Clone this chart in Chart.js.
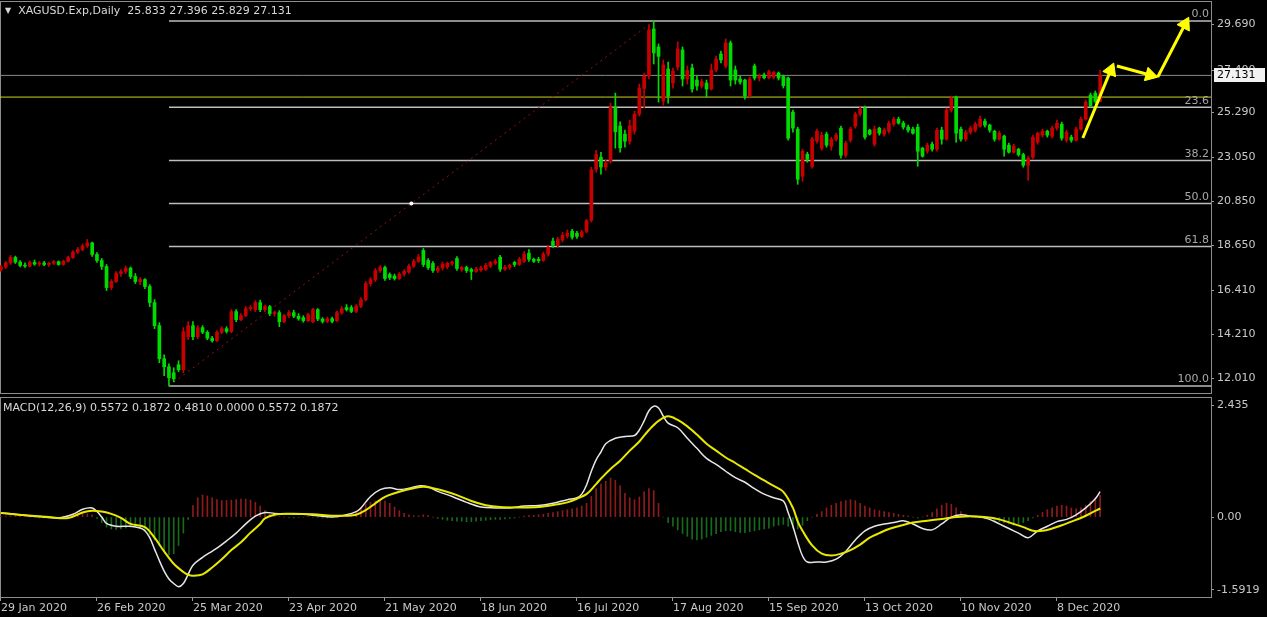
<!DOCTYPE html>
<html>
<head>
<meta charset="utf-8">
<script src="https://cdn.jsdelivr.net/npm/chart.js@4.4.1/dist/chart.umd.min.js"></script>
<style>
html, body { margin: 0; padding: 0; background: #000; overflow: hidden; }
#wrap { position: relative; width: 1267px; height: 617px; background: #000; }
canvas { position: absolute; left: 0; }
#priceCanvas { top: 0; }
#macdCanvas { top: 395px; }
.legend { position: absolute; font: 11px "DejaVu Sans", sans-serif; color: #d8d8d8; white-space: pre; }
.legend .tri { font-size: 8px; vertical-align: 1px; }
</style>
</head>
<body>
<div id="wrap">
  <canvas id="priceCanvas" width="1267" height="395"></canvas>
  <canvas id="macdCanvas" width="1267" height="222"></canvas>
  <div class="legend" style="left:5px;top:4px"><span class="tri">▼</span>  XAGUSD.Exp,Daily  25.833 27.396 25.829 27.131</div>
  <div class="legend" style="left:3px;top:401px">MACD(12,26,9) 0.5572 0.1872 0.4810 0.0000 0.5572 0.1872</div>
</div>
<script>
// time axis labels, one every 20 daily bars
const dateLabels = ["29 Jan 2020", "26 Feb 2020", "25 Mar 2020", "23 Apr 2020", "21 May 2020", "18 Jun 2020",
  "16 Jul 2020", "17 Aug 2020", "15 Sep 2020", "13 Oct 2020", "10 Nov 2020", "8 Dec 2020"];

// daily candles (bar index 0 = 29 Jan 2020)
const opens = [
  17.45,17.58,17.78,18.05,17.82,17.65,17.62,17.80,17.72,17.78,
  17.70,17.76,17.84,17.70,17.86,18.05,18.32,18.45,18.62,18.78,
  18.20,17.90,17.60,16.55,16.85,17.25,17.35,17.52,17.10,16.85,
  16.95,16.60,15.80,14.65,13.00,12.60,12.30,12.70,12.45,14.10,
  14.65,14.10,14.55,14.32,14.02,13.90,14.32,14.50,14.36,15.35,
  14.95,15.15,15.50,15.45,15.80,15.45,15.60,15.25,15.30,14.85,
  15.15,15.30,15.12,15.05,14.90,14.85,15.45,14.98,14.86,15.00,
  14.90,15.30,15.55,15.55,15.36,15.62,15.95,16.75,16.95,17.40,
  17.55,17.20,17.12,17.00,17.22,17.32,17.62,17.86,18.40,17.90,
  17.75,17.40,17.52,17.58,17.76,18.00,17.45,17.56,17.45,17.35,
  17.42,17.46,17.62,17.76,18.06,17.46,17.56,17.80,17.70,17.86,
  18.26,17.96,17.96,17.90,18.22,18.86,18.66,18.92,19.12,19.36,
  19.26,19.10,19.35,19.90,22.45,23.05,22.56,22.85,25.55,24.60,
  24.20,23.85,24.35,25.20,26.48,27.10,29.45,28.55,25.85,27.45,
  26.75,27.55,28.40,26.95,27.50,26.90,26.60,26.75,26.45,27.40,
  28.20,27.60,28.75,27.40,26.95,26.90,26.10,27.60,27.00,27.15,
  27.02,27.05,27.25,27.08,27.00,25.30,24.45,22.10,23.20,22.60,
  23.85,23.50,24.20,23.60,23.95,24.50,23.15,23.90,24.60,25.20,
  25.50,24.40,23.70,24.50,24.20,24.35,24.70,24.95,24.75,24.55,
  24.45,24.55,23.50,23.35,23.70,23.45,24.40,23.95,25.40,26.05,
  24.45,23.95,24.30,24.40,24.60,24.85,24.65,24.35,23.95,24.10,
  23.65,23.30,23.45,23.18,22.65,23.05,23.80,24.15,24.35,24.10,
  24.50,24.70,23.90,24.05,23.90,24.45,24.95,26.15,26.25,25.833
];
const highs = [
  17.65,17.85,18.15,18.12,17.90,17.78,17.88,17.92,17.85,17.86,
  17.82,17.90,17.88,17.92,18.12,18.40,18.55,18.72,18.95,18.82,
  18.30,18.00,17.70,16.95,17.35,17.45,17.62,17.58,17.25,17.05,
  17.00,16.70,15.95,14.80,13.20,12.75,12.55,12.90,14.55,14.85,
  14.85,14.65,14.65,14.40,14.12,14.40,14.60,14.60,15.45,15.45,
  15.25,15.60,15.65,15.90,15.92,15.68,15.66,15.38,15.40,15.22,
  15.40,15.42,15.25,15.15,15.28,15.52,15.50,15.05,15.08,15.08,
  15.38,15.60,15.70,15.65,15.70,16.05,16.85,17.05,17.50,17.65,
  17.62,17.28,17.22,17.30,17.45,17.72,17.95,18.20,18.50,18.00,
  17.85,17.62,17.82,17.82,17.88,18.10,17.62,17.62,17.52,17.56,
  17.62,17.76,17.86,17.96,18.16,17.66,17.72,17.86,18.05,18.35,
  18.45,18.02,18.06,18.32,18.66,19.02,19.05,19.30,19.42,19.46,
  19.36,19.40,19.95,22.55,23.40,23.30,22.92,25.75,26.25,24.82,
  24.40,24.90,25.35,26.70,27.25,29.65,29.84,28.70,27.90,27.80,
  27.50,28.80,28.55,27.60,27.70,27.10,26.95,26.90,27.70,28.10,
  28.35,28.95,28.85,27.60,27.10,26.95,27.05,27.70,27.20,27.25,
  27.40,27.35,27.30,27.15,27.05,25.40,24.55,23.45,23.30,24.05,
  24.45,24.30,24.30,24.05,24.25,24.60,23.85,24.55,25.30,25.55,
  25.60,24.45,24.60,24.55,24.50,24.85,25.05,25.05,24.85,24.65,
  24.55,24.70,23.55,23.75,23.80,24.50,24.55,25.50,26.10,26.10,
  24.55,24.40,24.60,24.80,25.10,24.95,24.70,24.40,24.35,24.15,
  23.75,23.70,23.50,23.25,23.10,24.15,24.30,24.45,24.40,24.60,
  24.90,24.80,24.40,24.15,24.55,25.05,25.90,26.25,26.35,27.396
];
const lows = [
  17.35,17.50,17.70,17.75,17.58,17.55,17.58,17.66,17.62,17.64,
  17.60,17.70,17.66,17.66,17.82,18.00,18.25,18.38,18.55,18.10,
  17.80,17.45,16.40,16.45,16.80,17.10,17.25,17.00,16.75,16.70,
  16.50,15.60,14.50,12.80,12.15,11.64,11.85,12.35,12.30,13.95,
  13.95,14.00,14.25,13.95,13.82,13.85,14.25,14.28,14.30,14.85,
  14.90,15.10,15.40,15.35,15.35,15.35,15.15,15.12,14.60,14.80,
  15.05,15.05,14.92,14.82,14.85,14.78,14.90,14.78,14.80,14.78,
  14.85,15.22,15.38,15.30,15.30,15.55,15.88,16.62,16.85,17.30,
  16.90,16.95,16.92,16.95,17.12,17.25,17.55,17.80,17.60,17.45,
  17.30,17.30,17.42,17.48,17.66,17.40,17.36,17.30,16.95,17.30,
  17.36,17.40,17.55,17.70,17.35,17.40,17.46,17.60,17.65,17.80,
  17.85,17.80,17.80,17.86,18.12,18.55,18.56,18.82,19.02,18.96,
  19.00,19.05,19.28,19.82,22.30,22.20,22.40,22.75,23.50,23.30,
  23.55,23.70,24.20,25.10,25.50,26.95,27.70,25.80,25.65,25.75,
  26.50,27.40,26.60,26.70,26.30,26.40,26.50,26.05,26.40,27.30,
  27.75,27.50,26.60,26.70,26.70,25.95,26.05,26.90,26.85,26.95,
  26.95,26.95,26.90,26.50,23.90,24.30,21.70,21.85,22.80,22.50,
  23.75,23.40,23.55,23.40,23.85,23.00,23.05,23.80,24.50,25.10,
  23.95,24.15,23.60,24.15,24.10,24.25,24.60,24.70,24.45,24.30,
  24.20,22.60,23.05,23.25,23.35,23.35,23.70,23.90,25.30,23.80,
  23.85,23.85,24.20,24.30,24.55,24.55,24.30,23.85,23.90,23.10,
  23.25,23.25,23.10,22.55,21.90,22.95,23.70,24.05,24.05,24.00,
  24.40,23.90,23.80,23.80,23.85,24.40,24.90,25.55,25.75,25.829
];
const closes = [
  17.58,17.78,18.05,17.82,17.65,17.62,17.80,17.72,17.78,17.70,
  17.76,17.84,17.70,17.86,18.05,18.32,18.45,18.62,18.78,18.20,
  17.90,17.60,16.55,16.85,17.25,17.35,17.52,17.10,16.85,16.95,
  16.60,15.80,14.65,13.00,12.60,12.05,12.00,12.45,14.35,14.65,
  14.10,14.55,14.32,14.02,13.90,14.32,14.50,14.36,15.35,14.95,
  15.15,15.50,15.56,15.80,15.45,15.60,15.25,15.30,14.85,15.15,
  15.30,15.12,15.00,14.90,15.20,15.45,14.98,14.86,15.00,14.86,
  15.30,15.50,15.45,15.36,15.62,15.95,16.75,16.95,17.40,17.55,
  17.00,17.05,17.00,17.22,17.36,17.62,17.86,18.08,17.70,17.55,
  17.40,17.52,17.72,17.76,17.82,17.50,17.56,17.40,17.35,17.46,
  17.52,17.66,17.80,17.86,17.46,17.56,17.66,17.70,17.96,18.22,
  17.96,17.86,17.90,18.22,18.56,18.66,18.96,19.16,19.26,19.06,
  19.10,19.32,19.88,22.42,23.18,22.56,22.76,25.55,24.32,23.52,
  23.85,24.62,25.20,26.48,27.10,29.40,28.25,28.08,27.65,26.10,
  27.35,28.45,26.95,27.38,26.45,26.60,26.82,26.45,27.40,27.95,
  27.90,28.75,26.90,26.90,26.80,26.10,26.95,27.00,27.10,27.02,
  27.32,27.28,27.00,26.62,24.00,24.50,21.95,23.35,22.95,23.95,
  24.35,24.15,23.65,23.95,24.15,23.15,23.75,24.45,25.20,25.45,
  24.05,24.20,24.45,24.25,24.40,24.75,24.95,24.75,24.55,24.40,
  24.25,23.35,23.10,23.65,23.45,24.40,23.95,25.40,26.00,24.25,
  23.95,24.30,24.50,24.70,24.95,24.65,24.40,23.95,24.25,23.45,
  23.30,23.60,23.18,22.65,23.00,24.05,24.25,24.35,24.15,24.50,
  24.75,24.00,24.30,23.90,24.45,24.95,25.80,25.60,25.83,27.131
];

// price axis labels as printed by the terminal
const priceTicks = [12.01, 14.21, 16.41, 18.65, 20.85, 23.05, 25.29, 27.40, 29.69];

// fibonacci retracement drawn from the March low to the August high
const fibLevels = [0, 23.6, 38.2, 50, 61.8, 100];
const fibLowBar = 35, fibLowPrice = 11.64;
const fibHighBar = 136, fibHighPrice = 29.84;
const fibMidPoint = [85.5, 20.74];

const yellowLevel = 26.05;
const bidPrice = 27.131;

// hand-drawn projection arrows: [fromBar, fromPrice, toBar, toPrice]
const arrows = [
  [225.4, 24.01, 231.2, 27.38],
  [232.5, 27.60, 239.4, 27.15],
  [241.0, 27.05, 246.7, 29.68]
];

// MACD(12,26,9) panel
const macdHist = [
  0.02,0.02,0.03,0.03,0.02,0.01,0.00,-0.01,-0.02,-0.02,
  -0.02,-0.01,0.00,0.02,0.04,0.06,0.08,0.08,0.07,0.05,
  -0.03,-0.12,-0.22,-0.26,-0.27,-0.26,-0.24,-0.22,-0.21,-0.24,
  -0.30,-0.38,-0.50,-0.62,-0.75,-0.82,-0.80,-0.62,-0.35,-0.05,
  0.25,0.42,0.48,0.46,0.42,0.38,0.36,0.36,0.37,0.38,
  0.39,0.39,0.37,0.32,0.24,0.14,0.06,0.02,0.01,0.00,
  -0.01,-0.02,-0.01,0.00,0.01,0.00,-0.01,-0.02,-0.02,-0.01,
  0.00,0.01,0.03,0.06,0.12,0.20,0.27,0.32,0.35,0.36,
  0.35,0.30,0.22,0.14,0.08,0.05,0.03,0.03,0.05,0.03,
  0.00,-0.03,-0.05,-0.07,-0.08,-0.09,-0.09,-0.10,-0.10,-0.09,
  -0.08,-0.07,-0.06,-0.05,-0.05,-0.04,-0.03,-0.02,0.00,0.02,
  0.03,0.04,0.05,0.06,0.08,0.10,0.12,0.14,0.16,0.18,
  0.20,0.24,0.30,0.45,0.62,0.72,0.78,0.85,0.80,0.68,
  0.52,0.42,0.38,0.44,0.55,0.62,0.58,0.30,0.00,-0.12,
  -0.20,-0.28,-0.36,-0.42,-0.48,-0.50,-0.48,-0.44,-0.40,-0.36,
  -0.32,-0.30,-0.30,-0.32,-0.34,-0.34,-0.32,-0.30,-0.28,-0.26,
  -0.24,-0.20,-0.18,-0.16,-0.20,-0.24,-0.26,-0.18,-0.08,0.00,
  0.06,0.12,0.20,0.26,0.30,0.34,0.36,0.38,0.36,0.30,
  0.24,0.20,0.16,0.14,0.12,0.10,0.08,0.06,0.04,0.02,
  0.00,-0.02,0.00,0.04,0.10,0.18,0.26,0.30,0.28,0.20,
  0.12,0.06,0.02,0.00,-0.02,-0.04,-0.06,-0.08,-0.10,-0.12,
  -0.15,-0.16,-0.15,-0.12,-0.08,-0.02,0.04,0.10,0.16,0.20,
  0.24,0.26,0.24,0.20,0.18,0.20,0.26,0.34,0.42,0.48
];
const macdMain = [
  [0,0.09],[4,0.05],[8,0.01],[12,-0.02],[15,0.06],[17,0.17],[19,0.20],[20,0.12],[21,0.00],[22,-0.14],
  [24,-0.20],[27,-0.20],[29,-0.24],[30,-0.30],[31,-0.45],[32,-0.70],[33,-0.95],[34,-1.18],[35,-1.35],[36,-1.45],
  [37,-1.52],[38,-1.45],[39,-1.25],[40,-1.05],[42,-0.88],[43,-0.81],[45,-0.68],[47,-0.52],[49,-0.35],[51,-0.15],
  [53,0.02],[55,0.10],[57,0.08],[60,0.07],[63,0.06],[66,0.03],[69,0.00],[72,0.05],[74,0.12],[75,0.20],
  [77,0.45],[79,0.60],[81,0.64],[83,0.60],[85,0.63],[87,0.68],[89,0.66],[91,0.56],[94,0.45],[97,0.32],
  [100,0.22],[103,0.20],[106,0.20],[109,0.24],[112,0.25],[115,0.30],[118,0.38],[120,0.42],[121,0.50],[122,0.70],
  [123,1.00],[124,1.25],[125,1.42],[126,1.60],[128,1.72],[130,1.76],[132,1.78],[133,1.90],[134,2.10],[135,2.32],
  [136,2.42],[137,2.38],[138,2.20],[139,2.05],[141,1.95],[143,1.72],[145,1.50],[147,1.28],[149,1.15],[151,1.00],
  [153,0.86],[155,0.76],[157,0.62],[159,0.50],[161,0.42],[163,0.35],[164,0.10],[165,-0.20],[166,-0.55],[167,-0.85],
  [168,-0.98],[170,-0.98],[172,-0.98],[174,-0.92],[176,-0.75],[178,-0.50],[180,-0.30],[182,-0.20],[184,-0.15],[186,-0.12],
  [188,-0.08],[190,-0.15],[192,-0.25],[194,-0.28],[196,-0.15],[198,0.00],[200,0.05],[202,0.02],[204,0.00],[206,-0.05],
  [208,-0.15],[210,-0.25],[212,-0.35],[214,-0.45],[216,-0.30],[218,-0.20],[220,-0.10],[222,-0.05],[224,0.05],[226,0.20],
  [228,0.40],[229,0.557]
];
const macdSignal = [
  [0,0.09],[5,0.04],[10,0.00],[14,-0.02],[17,0.10],[19,0.14],[21,0.12],[23,0.07],[25,-0.02],[27,-0.15],
  [30,-0.22],[32,-0.45],[34,-0.75],[36,-1.02],[38,-1.20],[39,-1.26],[40,-1.28],[42,-1.25],[44,-1.10],[46,-0.92],
  [48,-0.72],[50,-0.55],[52,-0.34],[54,-0.15],[55,-0.03],[57,0.05],[60,0.07],[65,0.06],[69,0.03],[72,0.03],
  [74,0.05],[76,0.15],[78,0.30],[80,0.44],[82,0.52],[84,0.58],[86,0.63],[88,0.66],[90,0.63],[92,0.58],
  [95,0.48],[98,0.35],[101,0.26],[104,0.22],[108,0.21],[112,0.22],[116,0.28],[118,0.32],[120,0.40],[122,0.50],
  [124,0.72],[125,0.84],[127,1.05],[129,1.23],[131,1.45],[133,1.65],[135,1.90],[137,2.10],[139,2.20],[141,2.12],
  [143,1.98],[145,1.80],[147,1.60],[149,1.45],[151,1.30],[153,1.18],[155,1.05],[157,0.92],[159,0.80],[161,0.68],
  [163,0.55],[165,0.20],[166,-0.10],[167,-0.30],[169,-0.62],[171,-0.80],[173,-0.84],[175,-0.80],[177,-0.72],[179,-0.60],
  [181,-0.45],[183,-0.35],[185,-0.26],[187,-0.20],[190,-0.12],[193,-0.08],[196,-0.04],[199,0.00],[202,0.02],[205,0.00],
  [208,-0.05],[211,-0.15],[213,-0.22],[215,-0.30],[217,-0.30],[219,-0.25],[221,-0.18],[223,-0.10],[225,-0.02],[227,0.08],
  [229,0.187]
];
const macdTicks = [2.435, 0, -1.5919];
const macdTickLabels = ["2.435", "0.00", "-1.5919"];

// ---- styling ----
const bullColor = "#c80000";
const bearColor = "#00dc00";
const axisText = "#c8c8c8";
const frameColor = "#8c8c8c";
const xMin = -0.2, xMax = 252.1;

Chart.defaults.font.family = '"DejaVu Sans", sans-serif';
Chart.defaults.font.size = 11;
Chart.defaults.animation = false;

function fibPrice(level) {
  return fibHighPrice - (fibHighPrice - fibLowPrice) * level / 100;
}

function hLine(price, fromBar, color, width) {
  return {
    type: "line",
    data: [{ x: fromBar, y: price }, { x: xMax, y: price }],
    borderColor: color,
    borderWidth: width,
    pointRadius: 0,
    order: 10
  };
}

function arrowDataset(a) {
  return {
    type: "line",
    data: [{ x: a[0], y: a[1] }, { x: a[2], y: a[3] }],
    borderColor: "#ffff00",
    borderWidth: 3,
    pointRadius: [0, 8],
    pointStyle: "triangle",
    pointBackgroundColor: "#ffff00",
    pointBorderColor: "#ffff00",
    pointBorderWidth: 1,
    pointRotation: (ctx) => {
      const sx = ctx.chart.scales.x, sy = ctx.chart.scales.y;
      const dx = sx.getPixelForValue(a[2]) - sx.getPixelForValue(a[0]);
      const dy = sy.getPixelForValue(a[3]) - sy.getPixelForValue(a[1]);
      return Math.atan2(dy, dx) * 180 / Math.PI + 90;
    },
    clip: false,
    order: 0
  };
}

// right-hand price axis: fixed width, no extra padding for the end labels
function fitRightAxis(s) {
  s.width = 56;
  s.paddingTop = 0;
  s.paddingBottom = 0;
}

const framePlugin = {
  id: "frame",
  beforeDatasetsDraw(chart) {
    const a = chart.chartArea, ctx = chart.ctx;
    ctx.save();
    ctx.strokeStyle = frameColor;
    ctx.lineWidth = 1;
    ctx.strokeRect(a.left + 0.5, a.top - 0.5, a.right - a.left, a.bottom - a.top + 1);
    ctx.restore();
  }
};

const fibLabelPlugin = {
  id: "fibLabels",
  afterDatasetsDraw(chart) {
    const a = chart.chartArea, ctx = chart.ctx, y = chart.scales.y;
    ctx.save();
    ctx.font = '11px "DejaVu Sans", sans-serif';
    ctx.fillStyle = "#a8a8a8";
    ctx.textAlign = "right";
    ctx.textBaseline = "bottom";
    fibLevels.forEach(l => {
      ctx.fillText(l.toFixed(1), a.right - 2, y.getPixelForValue(fibPrice(l)) - 1);
    });
    ctx.restore();
  },
  afterDraw(chart) {
    const a = chart.chartArea, ctx = chart.ctx, y = chart.scales.y;
    const py = Math.round(y.getPixelForValue(bidPrice));
    ctx.save();
    ctx.fillStyle = "#f2f2f2";
    ctx.fillRect(a.right + 3, py - 7, 51, 14);
    ctx.fillStyle = "#000";
    ctx.font = '11px "DejaVu Sans", sans-serif';
    ctx.textAlign = "left";
    ctx.textBaseline = "middle";
    ctx.fillText(bidPrice.toFixed(3), a.right + 6, py + 0.5);
    ctx.restore();
  }
};

// ---- price chart ----
const candleColors = closes.map((c, i) => (c >= opens[i] ? bullColor : bearColor));

new Chart(document.getElementById("priceCanvas"), {
  type: "bar",
  data: {
    datasets: [
      ...fibLevels.map(l => hLine(fibPrice(l), fibLowBar, "#bdbdbd", 1.5)),
      hLine(yellowLevel, xMin, "#d2d21e", 1),
      hLine(bidPrice, xMin, "#8a8a8a", 1),
      {
        type: "line",
        data: [{ x: fibLowBar, y: fibLowPrice }, { x: fibHighBar, y: fibHighPrice }],
        borderColor: "#8e1515",
        borderWidth: 1,
        borderDash: [2, 4],
        pointRadius: 0,
        order: 9
      },
      {
        type: "line",
        data: [{ x: fibMidPoint[0], y: fibMidPoint[1] }],
        pointRadius: 2,
        pointBackgroundColor: "#ffffff",
        pointBorderWidth: 0,
        showLine: false,
        order: 8
      },
      {
        data: highs.map((h, i) => ({ x: i, y: [lows[i], h] })),
        backgroundColor: candleColors,
        barThickness: 1,
        grouped: false,
        order: 3
      },
      {
        data: closes.map((c, i) => ({ x: i, y: [opens[i], c] })),
        backgroundColor: candleColors,
        barThickness: 3,
        minBarLength: 1,
        grouped: false,
        order: 2
      },
      ...arrows.map(arrowDataset)
    ]
  },
  options: {
    responsive: false,
    devicePixelRatio: 1,
    layout: { autoPadding: false, padding: { top: 2, bottom: 2, left: 0, right: 0 } },
    plugins: { legend: { display: false }, tooltip: { enabled: false } },
    scales: {
      x: { type: "linear", min: xMin, max: xMax, offset: false, display: false, grid: { offset: false } },
      y: {
        position: "right",
        min: 11.291,
        max: 30.792,
        afterFit: fitRightAxis,
        afterBuildTicks(s) { s.ticks = priceTicks.map(v => ({ value: v })); },
        ticks: { color: axisText, padding: 3, callback: v => v.toFixed(3) },
        grid: { drawOnChartArea: false, color: "#9a9a9a", tickLength: 3 },
        border: { color: frameColor }
      }
    }
  },
  plugins: [framePlugin, fibLabelPlugin]
});

// ---- MACD chart ----
new Chart(document.getElementById("macdCanvas"), {
  type: "bar",
  data: {
    datasets: [
      {
        data: macdHist.map((v, i) => ({ x: i, y: v })),
        backgroundColor: macdHist.map(v => (v >= 0 ? "#8e1b1b" : "#186a1b")),
        barThickness: 1,
        grouped: false,
        order: 3
      },
      {
        type: "line",
        data: macdMain.map(p => ({ x: p[0], y: p[1] })),
        borderColor: "#e6e6e6",
        borderWidth: 1.5,
        tension: 0.35,
        pointRadius: 0,
        order: 2
      },
      {
        type: "line",
        data: macdSignal.map(p => ({ x: p[0], y: p[1] })),
        borderColor: "#e8e800",
        borderWidth: 2,
        tension: 0.35,
        pointRadius: 0,
        order: 1
      }
    ]
  },
  options: {
    responsive: false,
    devicePixelRatio: 1,
    layout: { autoPadding: false, padding: { top: 3, bottom: 0, left: 0, right: 0 } },
    plugins: { legend: { display: false }, tooltip: { enabled: false } },
    scales: {
      x: {
        type: "linear",
        min: xMin,
        max: xMax,
        offset: false,
        afterFit(s) { s.height = 20; s.paddingLeft = 0; s.paddingRight = 0; },
        afterBuildTicks(s) { s.ticks = dateLabels.map((_, k) => ({ value: k * 20 })); },
        ticks: {
          color: axisText, align: "start", maxRotation: 0, autoSkip: false, padding: 1,
          callback: v => dateLabels[Math.round(v / 20)]
        },
        grid: { drawOnChartArea: false, offset: false, color: "#9a9a9a", tickLength: 4 },
        border: { color: frameColor }
      },
      y: {
        position: "right",
        min: -1.7447,
        max: 2.5987,
        afterFit: fitRightAxis,
        afterBuildTicks(s) { s.ticks = macdTicks.map(v => ({ value: v })); },
        ticks: { color: axisText, padding: 3, callback: v => macdTickLabels[macdTicks.indexOf(v)] },
        grid: { drawOnChartArea: false, color: "#9a9a9a", tickLength: 3 },
        border: { color: frameColor }
      }
    }
  },
  plugins: [framePlugin]
});
</script>
</body>
</html>
